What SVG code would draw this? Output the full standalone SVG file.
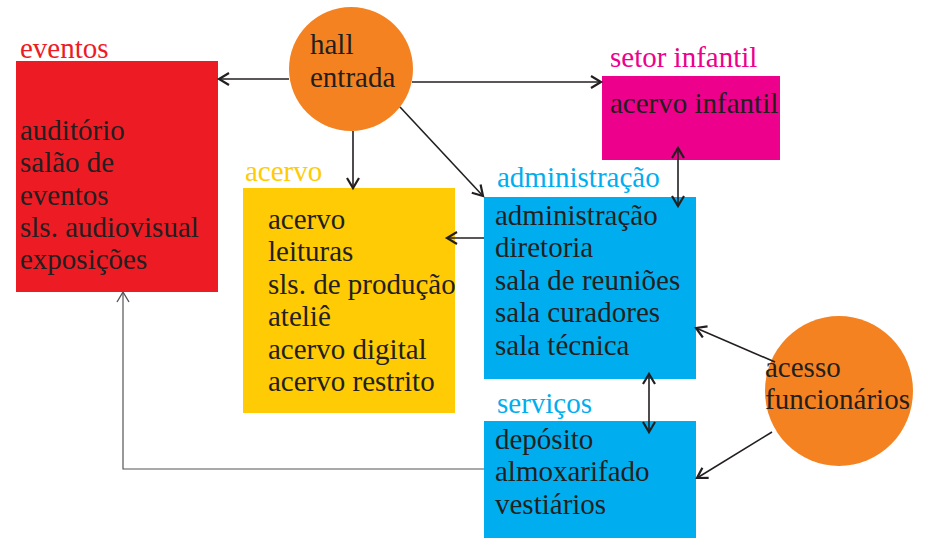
<svg xmlns="http://www.w3.org/2000/svg" width="927" height="540" viewBox="0 0 927 540">
<defs>
<marker id="ah" markerUnits="userSpaceOnUse" markerWidth="14" markerHeight="14" refX="11" refY="7" orient="auto-start-reverse" viewBox="0 0 14 14">
<path d="M1,1 L11,7 L1,13" fill="none" stroke="#231F20" stroke-width="2.2"/>
</marker>
<marker id="ahs" markerUnits="userSpaceOnUse" markerWidth="14" markerHeight="14" refX="11" refY="7" orient="auto" viewBox="0 0 14 14">
<path d="M1,1 L11,7 L1,13" fill="none" stroke="#555555" stroke-width="1.4"/>
</marker>
</defs>
<g id="eventos">
<rect x="16" y="61" width="202" height="231" fill="#ED1C24"/>
<text x="20" y="58" font-family="Liberation Serif, Times New Roman, serif" font-size="29" fill="#ED1C24">eventos</text>
<text x="20" y="140" font-family="Liberation Serif, Times New Roman, serif" font-size="29" fill="#231F20">auditório</text>
<text x="20" y="172" font-family="Liberation Serif, Times New Roman, serif" font-size="29" fill="#231F20">salão de</text>
<text x="20" y="205" font-family="Liberation Serif, Times New Roman, serif" font-size="29" fill="#231F20">eventos</text>
<text x="20" y="237" font-family="Liberation Serif, Times New Roman, serif" font-size="29" fill="#231F20">sls. audiovisual</text>
<text x="20" y="269" font-family="Liberation Serif, Times New Roman, serif" font-size="29" fill="#231F20">exposições</text>
</g>
<g id="hall">
<circle cx="351" cy="69" r="62" fill="#F58220"/>
<text x="310" y="54" font-family="Liberation Serif, Times New Roman, serif" font-size="29" fill="#231F20">hall</text>
<text x="310" y="87" font-family="Liberation Serif, Times New Roman, serif" font-size="29" fill="#231F20">entrada</text>
</g>
<g id="setor-infantil">
<rect x="602" y="76" width="178" height="84" fill="#EC008C"/>
<text x="610" y="67" font-family="Liberation Serif, Times New Roman, serif" font-size="29" fill="#EC008C">setor infantil</text>
<text x="610" y="113" font-family="Liberation Serif, Times New Roman, serif" font-size="29" fill="#231F20">acervo infantil</text>
</g>
<g id="acervo">
<rect x="243" y="188" width="212" height="225" fill="#FFCB05"/>
<text x="245" y="181" font-family="Liberation Serif, Times New Roman, serif" font-size="29" fill="#FFCB05">acervo</text>
<text x="268" y="229" font-family="Liberation Serif, Times New Roman, serif" font-size="29" fill="#231F20">acervo</text>
<text x="268" y="261" font-family="Liberation Serif, Times New Roman, serif" font-size="29" fill="#231F20">leituras</text>
<text x="268" y="294" font-family="Liberation Serif, Times New Roman, serif" font-size="29" fill="#231F20">sls. de produção</text>
<text x="268" y="326" font-family="Liberation Serif, Times New Roman, serif" font-size="29" fill="#231F20">ateliê</text>
<text x="268" y="359" font-family="Liberation Serif, Times New Roman, serif" font-size="29" fill="#231F20">acervo digital</text>
<text x="268" y="391" font-family="Liberation Serif, Times New Roman, serif" font-size="29" fill="#231F20">acervo restrito</text>
</g>
<g id="administracao">
<rect x="484" y="197" width="212" height="182" fill="#00AEEF"/>
<text x="497" y="187" font-family="Liberation Serif, Times New Roman, serif" font-size="29" fill="#00AEEF">administração</text>
<text x="495" y="225" font-family="Liberation Serif, Times New Roman, serif" font-size="29" fill="#231F20">administração</text>
<text x="495" y="257" font-family="Liberation Serif, Times New Roman, serif" font-size="29" fill="#231F20">diretoria</text>
<text x="495" y="290" font-family="Liberation Serif, Times New Roman, serif" font-size="29" fill="#231F20">sala de reuniões</text>
<text x="495" y="322" font-family="Liberation Serif, Times New Roman, serif" font-size="29" fill="#231F20">sala curadores</text>
<text x="495" y="355" font-family="Liberation Serif, Times New Roman, serif" font-size="29" fill="#231F20">sala técnica</text>
</g>
<g id="servicos">
<rect x="484" y="421" width="212" height="117" fill="#00AEEF"/>
<text x="497" y="413" font-family="Liberation Serif, Times New Roman, serif" font-size="29" fill="#00AEEF">serviços</text>
<text x="495" y="449" font-family="Liberation Serif, Times New Roman, serif" font-size="29" fill="#231F20">depósito</text>
<text x="495" y="481" font-family="Liberation Serif, Times New Roman, serif" font-size="29" fill="#231F20">almoxarifado</text>
<text x="495" y="514" font-family="Liberation Serif, Times New Roman, serif" font-size="29" fill="#231F20">vestiários</text>
</g>
<g id="acesso">
<ellipse cx="839" cy="391" rx="74" ry="75" fill="#F58220"/>
<text x="765" y="377" font-family="Liberation Serif, Times New Roman, serif" font-size="29" fill="#231F20">acesso</text>
<text x="765" y="409" font-family="Liberation Serif, Times New Roman, serif" font-size="29" fill="#231F20">funcionários</text>
</g>
<g id="connectors" fill="none" stroke="#231F20" stroke-width="1.6">
<line x1="289" y1="79" x2="219" y2="79" marker-end="url(#ah)"/>
<line x1="412" y1="82" x2="601" y2="82" marker-end="url(#ah)"/>
<line x1="353" y1="131" x2="353" y2="188" marker-end="url(#ah)"/>
<line x1="400" y1="107" x2="483" y2="196" marker-end="url(#ah)"/>
<line x1="484" y1="238" x2="447" y2="238" marker-end="url(#ah)"/>
<line x1="678" y1="148" x2="678" y2="206" marker-start="url(#ah)" marker-end="url(#ah)"/>
<line x1="649" y1="374" x2="649" y2="432" marker-start="url(#ah)" marker-end="url(#ah)"/>
<line x1="775" y1="362" x2="696" y2="328" marker-end="url(#ah)"/>
<line x1="772" y1="432" x2="697" y2="478" marker-end="url(#ah)"/>
<polyline points="484,469 123,469 123,292" stroke="#555555" stroke-width="1.2" marker-end="url(#ahs)"/>
</g>
</svg>
